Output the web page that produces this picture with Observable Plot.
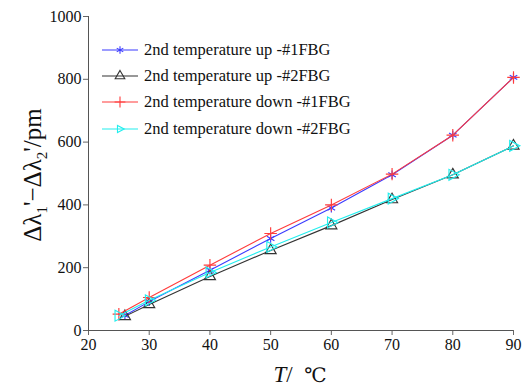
<!DOCTYPE html>
<html><head><meta charset="utf-8">
<script src="https://cdn.jsdelivr.net/npm/d3@7"></script>
<script src="https://cdn.jsdelivr.net/npm/@observablehq/plot@0.6"></script>
<style>
body{margin:0;background:#fff;}
#wrap{position:relative;width:529px;height:389px;font-family:"Liberation Serif","Times New Roman",serif;}
#wrap svg, #wrap svg text{font-family:"Liberation Serif",serif !important;}
#legend{position:absolute;left:100px;top:37px;font-size:16.5px;color:#111;}
.row{display:flex;align-items:center;height:26.2px;}
.row svg{margin-right:4px;}
#ylab{position:absolute;left:35px;top:175px;transform:translate(-50%,-50%) rotate(-90deg);font-size:25px;white-space:nowrap;color:#111;}
#xlab{position:absolute;left:300px;top:375px;transform:translate(-50%,-50%);font-size:23px;white-space:nowrap;color:#111;}
#xlab .deg{font-family:"DejaVu Serif",serif;font-size:20px;}
</style></head>
<body><div id="wrap"></div>
<script>
const temps = [25, 30, 40, 50, 60, 70, 80, 90];
const tempsUp = [26, 30, 40, 50, 60, 70, 80, 90];
const upFBG1 = [48, 92, 192, 293, 390, 496, 622, 806];
const upFBG2 = [45, 83, 172, 255, 334, 417, 496, 588];
const downFBG1 = [52, 105, 208, 309, 400, 498, 622, 806];
const downFBG2 = [47, 96, 185, 266, 344, 420, 496, 588];
const seriesNames = ["2nd temperature up -#1FBG","2nd temperature up -#2FBG","2nd temperature down -#1FBG","2nd temperature down -#2FBG"];
const xTicks = [20,30,40,50,60,70,80,90];
const yTicks = [0,200,400,600,800,1000];

const triRight = {draw(ctx, size){ const r = Math.sqrt(size/1.3); ctx.moveTo(r,0); ctx.lineTo(-r*0.6,-r*0.85); ctx.lineTo(-r*0.6,r*0.85); ctx.closePath(); }};
const styles = [
  {color:"#3b3bff", symbol:"asterisk"},
  {color:"#333333", symbol:"triangle"},
  {color:"#ff3b3b", symbol:"plus"},
  {color:"#22eeee", symbol:triRight}
];
const xs = [tempsUp, tempsUp, temps, temps];
const ys = [upFBG1, upFBG2, downFBG1, downFBG2];
const data = [];
seriesNames.forEach((s,i)=>xs[i].forEach((t,j)=>data.push({series:s, i, T:t, v:ys[i][j]})));

const marks = [];
seriesNames.forEach((s,i)=>{
  const d = data.filter(r=>r.i===i);
  const st = styles[i];
  marks.push(Plot.line(d,{x:"T",y:"v",stroke:st.color,strokeWidth:1.1}));
  marks.push(Plot.dot(d,{x:"T",y:"v",symbol:st.symbol,r:4.1,stroke:st.color,strokeWidth:1.15,fill:"none"}));
});

const FF = "Liberation Serif";
const chart = Plot.plot({
  width:529, height:389,
  marginLeft:88, marginRight:16, marginTop:16, marginBottom:59,
  style:{fontFamily:FF, fontSize:"16px", color:"#111", background:"#fff"},
  x:{domain:[20,90]},
  y:{domain:[0,1000]},
  marks:[
    Plot.axisX({ticks:xTicks, tickSize:5, tickPadding:3, label:null, stroke:"#666", fontFamily:FF, fontSize:16, tickFormat:d3.format("d")}),
    Plot.axisY({ticks:yTicks, tickSize:5, tickPadding:2, label:null, stroke:"#666", fontFamily:FF, fontSize:16, tickFormat:d3.format("d")}),
    Plot.ruleX([20],{stroke:"#555"}),
    Plot.ruleY([0],{stroke:"#555"}),
    ...marks
  ]
});
const wrap = document.getElementById("wrap");
wrap.appendChild(chart);

// legend
const leg = document.createElement("div"); leg.id="legend";
seriesNames.forEach((s,i)=>{
  const row = document.createElement("div"); row.className="row";
  const sv = d3.create("svg").attr("width",40).attr("height",14);
  sv.append("line").attr("x1",2).attr("x2",38).attr("y1",7).attr("y2",7).attr("stroke",styles[i].color).attr("stroke-width",1.1);
  const sym = typeof styles[i].symbol==="string" ? {asterisk:d3.symbolAsterisk,triangle:d3.symbolTriangle,plus:d3.symbolPlus}[styles[i].symbol] : styles[i].symbol;
  sv.append("path").attr("transform","translate(20,7)").attr("d",d3.symbol(sym, i===3?23:40)())
    .attr("fill","none").attr("stroke",styles[i].color).attr("stroke-width",1.1);
  row.appendChild(sv.node());
  const tx = document.createElement("span"); tx.textContent=s; row.appendChild(tx);
  leg.appendChild(row);
});
wrap.appendChild(leg);

const yl = document.createElement("div"); yl.id="ylab";
yl.innerHTML = "Δλ<sub style='font-size:60%'>1</sub>'−Δλ<sub style='font-size:60%'>2</sub>'/pm";
wrap.appendChild(yl);
const xl = document.createElement("div"); xl.id="xlab";
xl.innerHTML = "<i>T</i>/&nbsp; <span class='deg'>℃</span>";
wrap.appendChild(xl);
</script></body></html>
